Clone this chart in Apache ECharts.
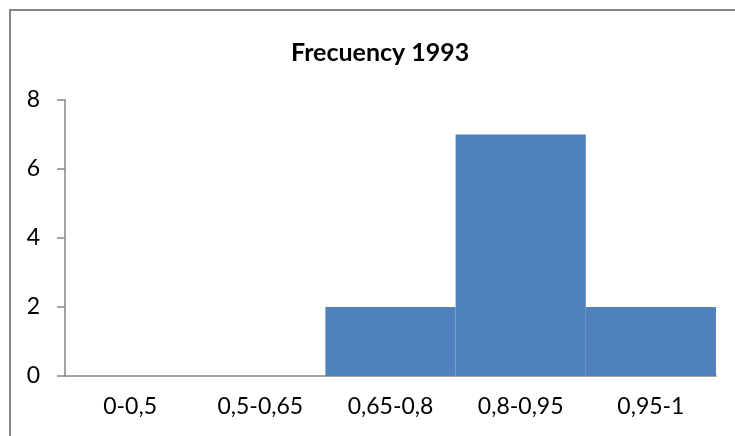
<!DOCTYPE html>
<html lang="en">
<head>
    <meta charset="UTF-8">
    <title>Frecuency 1993</title>
    <script src="https://cdn.jsdelivr.net/npm/echarts@6/dist/echarts.min.js"></script>
    <style>
        html, body { margin: 0; padding: 0; background: #fff; }
    </style>
</head>
<body>
<div id="main" style="width: 735px;height: 436px;"></div>
<script>
    // data
    let categories = ['0-0,5', '0,5-0,65', '0,65-0,8', '0,8-0,95', '0,95-1'];
    let counts = [0, 0, 2, 7, 2];
    let yTicks = [0, 2, 4, 6, 8];

    let myChart = echarts.init(document.getElementById('main'));
    let option = {
        backgroundColor: '#fff',
        textStyle: { fontFamily: 'Lato' },
        title: {
            text: 'Frecuency 1993',
            left: 286,
            top: 35,
            textStyle: { fontFamily: 'Lato', fontWeight: 'bold', fontSize: 25, color: '#000' }
        },
        graphic: [{
            type: 'rect',
            shape: { x: 10, y: 10, width: 740, height: 440 },
            style: { fill: null, stroke: '#868686', lineWidth: 2 },
            silent: true
        }],
        grid: { left: 65, right: 19, top: 100, bottom: 60 },
        xAxis: {
            type: 'category',
            data: categories,
            axisLine: { lineStyle: { color: '#868686', width: 1.5 } },
            axisTick: { show: false },
            axisLabel: { color: '#000', fontSize: 23, margin: 19 }
        },
        yAxis: {
            type: 'value',
            min: yTicks[0],
            max: yTicks[yTicks.length - 1],
            interval: 2,
            axisLine: { show: true, lineStyle: { color: '#868686', width: 1.5 } },
            axisTick: { show: true, length: 8, lineStyle: { color: '#868686', width: 1.5 } },
            splitLine: { show: false },
            axisLabel: { color: '#000', fontSize: 23, margin: 25 }
        },
        series: [{
            name: 'Frecuency',
            type: 'bar',
            data: counts,
            barCategoryGap: '0%',
            barWidth: '100%',
            itemStyle: { color: '#4F81BD' },
            silent: true
        }]
    };
    myChart.setOption(option);
</script>
</body>
</html>
